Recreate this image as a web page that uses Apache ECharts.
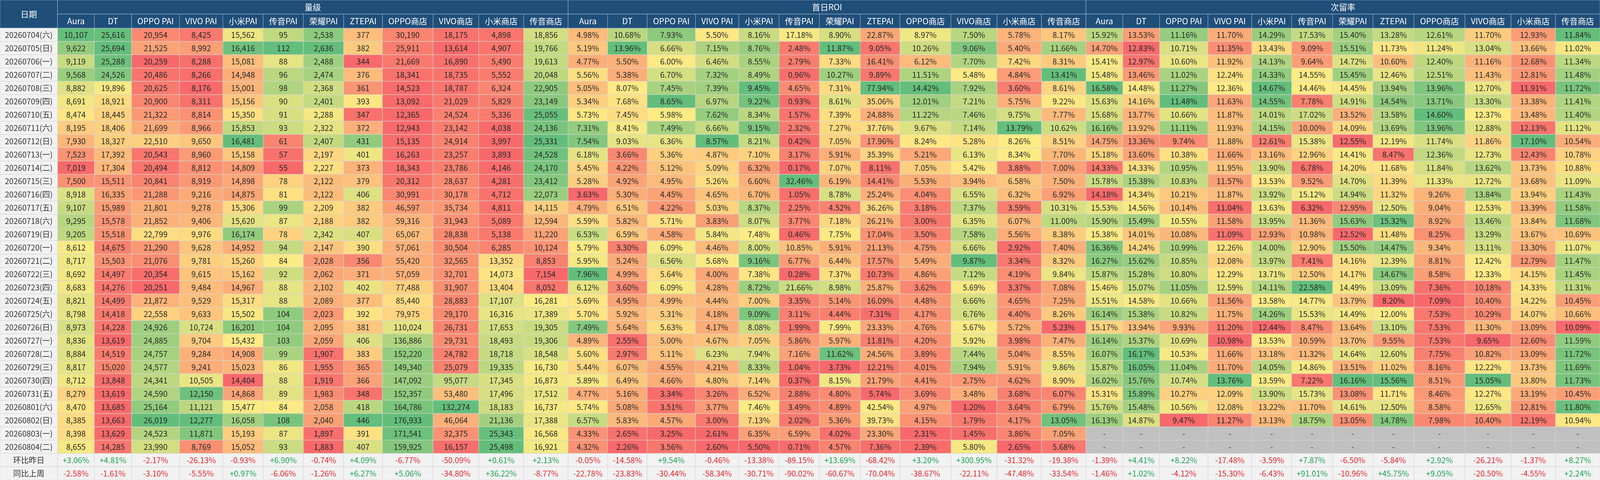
<!DOCTYPE html>
<html lang="zh">
<head>
  <meta charset="utf-8">
  <title>渠道日报</title>
  <script src="https://cdn.jsdelivr.net/npm/echarts@6/dist/echarts.min.js"></script>
  <style>
    html, body { margin: 0; padding: 0; background: #fff; overflow: hidden; }
  </style>
</head>
<body>
<!-- fill the whole window, the table is laid out in reference pixels on value axes -->
<div id="main" style="width: 100vw;height:100vh;"></div>
<script type="text/javascript">
    // ---- data ----
    var groups = ['量级', '首日ROI', '次留率'];
    var channels = ['Aura', 'DT', 'OPPO PAI', 'VIVO PAI', '小米PAI', '传音PAI', '荣耀PAI', 'ZTEPAI', 'OPPO商店', 'VIVO商店', '小米商店', '传音商店'];
    var dates = ['20260704(六)', '20260705(日)', '20260706(一)', '20260707(二)', '20260708(三)', '20260709(四)', '20260710(五)',
        '20260711(六)', '20260712(日)', '20260713(一)', '20260714(二)', '20260715(三)', '20260716(四)', '20260717(五)',
        '20260718(六)', '20260719(日)', '20260720(一)', '20260721(二)', '20260722(三)', '20260723(四)', '20260724(五)',
        '20260725(六)', '20260726(日)', '20260727(一)', '20260728(二)', '20260729(三)', '20260730(四)', '20260731(五)',
        '20260801(六)', '20260802(日)', '20260803(一)', '20260804(二)'];
    var summaryLabels = ['环比昨日', '同比上周'];

    // 量级 (installs)
    var volume = [
        [10107, 25616, 20954, 8425, 15562, 95, 2538, 377, 30190, 18175, 4898, 18856],
        [9622, 25694, 21525, 8992, 16416, 112, 2636, 382, 25911, 13614, 4907, 19766],
        [9119, 25288, 20259, 8288, 15081, 88, 2488, 344, 21669, 16890, 5490, 19613],
        [9568, 24526, 20486, 8266, 14948, 96, 2474, 376, 18341, 18735, 5552, 20048],
        [8882, 19896, 20625, 8176, 15001, 98, 2368, 361, 14523, 18787, 6324, 22905],
        [8691, 18921, 20900, 8311, 15156, 90, 2401, 393, 13092, 21029, 5829, 23149],
        [8474, 18445, 21322, 8814, 15350, 91, 2288, 347, 12365, 24524, 5336, 25055],
        [8195, 18406, 21699, 8966, 15853, 93, 2322, 372, 12943, 23142, 4038, 24136],
        [7930, 18327, 22510, 9650, 16481, 61, 2407, 431, 15135, 24914, 3997, 25331],
        [7523, 17392, 20543, 8960, 15158, 57, 2197, 401, 16263, 23257, 3893, 24528],
        [7019, 17304, 20494, 8812, 14809, 55, 2227, 373, 18343, 23786, 4146, 24170],
        [7500, 15511, 20841, 8919, 14898, 78, 2122, 379, 20312, 28637, 4281, 23412],
        [8918, 16335, 21288, 9216, 14875, 81, 2122, 406, 30991, 30178, 4712, 22073],
        [9107, 15989, 21801, 9278, 15306, 99, 2209, 382, 46597, 35734, 4811, 14115],
        [9295, 15578, 21852, 9406, 15620, 87, 2188, 382, 59316, 31943, 5089, 12594],
        [9205, 15518, 22799, 9976, 16174, 78, 2342, 407, 65067, 28838, 5138, 11220],
        [8612, 14675, 21290, 9628, 14952, 94, 2147, 390, 57061, 30504, 6285, 10124],
        [8717, 15503, 21076, 9781, 15260, 84, 2028, 356, 55420, 32565, 13352, 8853],
        [8692, 14497, 20354, 9615, 15162, 92, 2062, 371, 57059, 32701, 14073, 7154],
        [8683, 14276, 20251, 9484, 14967, 88, 2102, 402, 77488, 31907, 13404, 8052],
        [8821, 14499, 21872, 9529, 15317, 88, 2089, 377, 85440, 28883, 17107, 16281],
        [8798, 14418, 22558, 9633, 15502, 104, 2023, 392, 79975, 29170, 16316, 17389],
        [8973, 14228, 24926, 10724, 16201, 104, 2095, 381, 110024, 26731, 17653, 19305],
        [8836, 13619, 24885, 9704, 15432, 103, 2059, 406, 136886, 29731, 18493, 19306],
        [8884, 14519, 24757, 9284, 14908, 99, 1907, 383, 152220, 24782, 18718, 18548],
        [8817, 15020, 24577, 9241, 15023, 86, 1955, 365, 149340, 25079, 19335, 16730],
        [8712, 13848, 24341, 10505, 14404, 88, 1919, 366, 147092, 95077, 17345, 16873],
        [8279, 13619, 24590, 12150, 14868, 89, 1983, 348, 152357, 53480, 17496, 17512],
        [8470, 13685, 25164, 11121, 15477, 84, 2058, 418, 164786, 132274, 18183, 16737],
        [8385, 13663, 26019, 12277, 16058, 108, 2040, 446, 176933, 46064, 21136, 17388],
        [8398, 13629, 24523, 11871, 15193, 87, 1897, 391, 171541, 32375, 25343, 16568],
        [8655, 14285, 23990, 8769, 15052, 93, 1883, 407, 159925, 16157, 25498, 16921]
    ];
    var volumeDoD = [3.06, 4.81, -2.17, -26.13, -0.93, 6.90, -0.74, 4.09, -6.77, -50.09, 0.61, 2.13];
    var volumeWoW = [-2.58, -1.61, -3.10, -5.55, 0.97, -6.06, -1.26, 6.27, 5.06, -34.80, 36.22, -8.77];

    // 首日ROI (%)
    var roi = [
        [4.98, 10.68, 7.93, 5.50, 8.16, 17.18, 8.90, 22.87, 8.97, 7.50, 5.78, 8.17],
        [5.19, 13.96, 6.66, 7.15, 8.76, 2.48, 11.87, 9.05, 10.26, 9.06, 5.40, 11.66],
        [4.77, 5.50, 6.00, 6.46, 8.55, 2.79, 7.33, 16.41, 6.12, 7.70, 7.42, 8.31],
        [5.56, 5.38, 6.70, 7.32, 8.49, 0.96, 10.27, 9.89, 11.51, 5.48, 4.84, 13.41],
        [5.05, 8.07, 7.45, 7.39, 9.45, 4.65, 7.31, 77.94, 14.42, 7.92, 3.60, 8.61],
        [5.34, 7.68, 8.65, 6.97, 9.22, 0.93, 8.61, 35.06, 12.01, 7.21, 5.75, 9.22],
        [5.73, 7.45, 5.98, 7.62, 8.34, 1.57, 7.39, 24.88, 11.22, 7.46, 9.75, 7.77],
        [7.31, 8.41, 7.49, 6.66, 9.15, 2.32, 7.27, 37.76, 9.67, 7.14, 13.79, 10.62],
        [7.54, 9.03, 6.36, 8.57, 8.21, 0.42, 7.05, 17.96, 8.24, 5.28, 8.26, 8.51],
        [6.18, 3.66, 5.36, 4.87, 7.10, 3.17, 5.91, 35.39, 5.21, 6.13, 8.34, 7.70],
        [5.45, 4.22, 5.12, 5.09, 6.32, 0.17, 7.07, 8.11, 7.05, 5.42, 3.88, 7.00],
        [5.28, 4.92, 4.95, 5.26, 6.60, 32.46, 6.19, 14.41, 5.53, 3.94, 6.58, 7.50],
        [3.63, 5.30, 4.45, 4.65, 6.70, 1.05, 8.78, 25.24, 4.04, 6.55, 6.32, 6.92],
        [4.79, 6.51, 4.22, 5.03, 8.37, 2.25, 4.52, 36.26, 3.18, 7.37, 3.59, 10.31],
        [5.59, 5.82, 5.71, 3.83, 8.07, 3.77, 7.18, 26.21, 3.00, 6.35, 6.07, 11.00],
        [6.53, 6.59, 4.58, 5.84, 7.48, 0.46, 7.75, 17.04, 3.50, 7.58, 5.56, 8.38],
        [5.79, 3.30, 6.09, 4.46, 8.00, 10.85, 5.91, 21.13, 4.75, 6.66, 2.92, 7.40],
        [5.95, 5.24, 6.56, 5.68, 9.16, 6.77, 6.44, 17.57, 5.49, 9.87, 3.34, 8.32],
        [7.96, 4.99, 5.64, 4.00, 7.38, 0.28, 7.37, 10.73, 4.86, 7.12, 4.19, 9.84],
        [6.12, 3.60, 6.09, 4.28, 8.72, 21.66, 8.98, 25.87, 3.62, 5.69, 3.37, 7.08],
        [5.69, 4.95, 4.99, 4.44, 7.00, 3.35, 5.14, 16.09, 4.48, 6.66, 4.65, 7.25],
        [5.70, 5.92, 5.31, 4.18, 9.09, 3.11, 4.44, 7.31, 4.17, 6.76, 4.40, 8.26],
        [7.49, 5.64, 5.63, 4.17, 8.08, 1.99, 7.99, 23.33, 4.76, 5.67, 5.72, 5.23],
        [4.89, 2.55, 5.00, 4.67, 7.05, 5.86, 5.97, 11.81, 4.20, 5.92, 3.98, 7.47],
        [5.60, 2.97, 5.11, 6.23, 7.94, 7.16, 11.62, 24.56, 3.89, 7.44, 5.04, 8.55],
        [5.44, 6.07, 4.55, 4.21, 8.33, 1.04, 3.73, 12.21, 4.01, 7.94, 5.91, 9.86],
        [5.89, 6.49, 4.66, 4.80, 7.14, 0.37, 8.15, 21.79, 4.41, 2.75, 4.62, 8.90],
        [4.77, 5.16, 3.34, 3.26, 6.52, 2.88, 4.80, 5.74, 3.69, 3.48, 3.68, 6.07],
        [5.74, 5.08, 3.51, 3.77, 7.46, 3.49, 4.89, 42.54, 4.97, 1.20, 3.64, 6.79],
        [6.57, 5.83, 4.57, 3.00, 7.13, 2.02, 5.36, 39.73, 4.15, 1.79, 4.17, 13.05],
        [4.33, 2.65, 3.25, 2.61, 6.35, 6.59, 4.02, 23.30, 2.31, 1.45, 3.86, 7.05],
        [4.32, 2.26, 3.56, 2.60, 5.50, 0.71, 4.57, 7.36, 2.39, 5.80, 2.65, 5.68]
    ];
    var roiDoD = [-0.05, -14.58, 9.54, -0.46, -13.38, -89.15, 13.69, -68.42, 3.20, 300.95, -31.32, -19.38];
    var roiWoW = [-22.78, -23.83, -30.44, -58.34, -30.71, -90.02, -60.67, -70.04, -38.67, -22.11, -47.48, -33.54];

    // 次留率 (%), the last two days have no value yet
    var retention = [
        [15.92, 13.53, 11.16, 11.70, 14.29, 17.53, 15.40, 13.28, 12.61, 11.70, 12.93, 11.84],
        [14.70, 12.83, 10.71, 11.35, 13.43, 9.09, 15.51, 11.73, 11.24, 13.04, 13.66, 11.02],
        [15.41, 12.97, 10.60, 11.92, 14.13, 9.64, 14.72, 10.60, 12.40, 11.16, 12.68, 11.34],
        [15.48, 13.46, 11.02, 12.24, 14.33, 14.55, 15.45, 12.46, 12.51, 11.43, 12.81, 11.48],
        [16.58, 14.48, 11.27, 12.36, 14.67, 14.46, 14.45, 13.94, 13.96, 12.70, 11.91, 11.72],
        [15.63, 14.16, 11.48, 11.63, 14.55, 7.78, 14.91, 14.54, 13.71, 13.30, 13.38, 11.41],
        [15.68, 13.77, 10.66, 11.87, 14.01, 17.02, 13.52, 13.58, 14.60, 12.37, 13.48, 11.40],
        [16.16, 13.92, 11.11, 11.93, 14.15, 10.00, 14.09, 13.69, 13.96, 12.88, 12.13, 11.12],
        [14.75, 13.36, 9.74, 11.88, 12.61, 15.38, 12.55, 12.19, 11.74, 11.86, 17.10, 10.54],
        [15.18, 13.60, 10.38, 11.66, 13.16, 12.96, 14.41, 8.47, 12.36, 12.73, 12.43, 10.78],
        [14.33, 14.33, 10.95, 11.95, 13.90, 6.78, 14.20, 11.68, 11.84, 13.62, 13.73, 10.88],
        [15.78, 15.38, 10.83, 11.57, 13.53, 9.52, 14.70, 11.39, 11.33, 12.72, 13.68, 11.09],
        [14.18, 14.34, 10.21, 11.87, 13.92, 15.12, 14.94, 11.32, 9.26, 13.84, 13.94, 11.43],
        [15.53, 14.56, 10.14, 11.04, 13.63, 6.32, 12.95, 12.50, 9.04, 12.53, 13.39, 11.58],
        [15.90, 15.49, 10.55, 11.58, 13.95, 11.36, 15.63, 15.32, 8.92, 13.46, 13.84, 11.68],
        [15.38, 14.01, 10.08, 11.09, 12.93, 10.98, 12.52, 11.48, 8.25, 13.29, 13.67, 10.69],
        [16.36, 14.24, 10.99, 12.26, 14.00, 12.90, 15.50, 14.47, 9.34, 13.11, 13.30, 11.07],
        [16.27, 15.62, 10.85, 12.08, 13.97, 7.41, 14.16, 12.39, 8.81, 12.42, 12.79, 11.47],
        [15.87, 15.28, 10.80, 12.29, 13.71, 12.50, 14.17, 14.67, 8.58, 12.33, 14.15, 11.45],
        [15.46, 15.07, 11.05, 12.59, 14.11, 22.58, 14.49, 13.09, 7.36, 10.18, 14.33, 11.31],
        [15.51, 14.58, 10.66, 11.56, 13.58, 14.77, 13.79, 8.20, 7.09, 10.40, 14.22, 10.45],
        [16.14, 15.38, 10.82, 11.75, 14.26, 15.53, 14.49, 12.00, 7.53, 10.29, 14.07, 10.66],
        [15.17, 13.94, 9.93, 11.20, 12.44, 8.47, 13.64, 13.10, 7.53, 11.30, 13.09, 10.09],
        [16.14, 15.37, 10.69, 10.98, 13.53, 10.59, 13.70, 9.55, 7.53, 9.65, 12.60, 11.59],
        [16.07, 16.17, 10.53, 11.66, 13.18, 11.32, 14.64, 12.60, 7.75, 10.82, 13.09, 11.72],
        [15.87, 16.05, 11.04, 11.70, 14.05, 14.86, 13.51, 11.02, 8.16, 12.22, 13.73, 11.69],
        [16.02, 15.76, 10.74, 13.76, 13.59, 7.22, 16.16, 15.56, 8.51, 15.05, 13.80, 11.73],
        [15.31, 15.89, 10.27, 12.09, 13.90, 15.73, 13.08, 11.71, 8.46, 12.27, 13.19, 10.45],
        [15.76, 15.48, 10.56, 12.08, 13.22, 11.70, 14.61, 12.50, 8.58, 12.65, 12.81, 11.80],
        [16.13, 14.87, 9.47, 11.27, 13.13, 18.75, 13.05, 14.78, 7.98, 10.40, 12.19, 10.94],
        null,
        null
    ];
    var retentionDoD = [-1.39, 4.41, 8.22, -17.48, -3.59, 7.87, -6.50, -5.84, 2.92, -26.21, -1.37, 8.27];
    var retentionWoW = [-1.46, 1.02, -4.12, -15.30, -6.43, 91.01, -10.96, 45.75, 9.05, -20.50, -4.55, 2.24];

    // ---- layout (reference pixels) ----
    var colEdges = [0, 150,
        246, 343, 468, 581, 686, 791, 896, 997, 1129, 1248, 1365, 1481,
        1584, 1687, 1813, 1926, 2031, 2136, 2243, 2346, 2479, 2599, 2715, 2831,
        2927, 3023, 3149, 3263, 3367, 3474, 3579, 3686, 3819, 3939, 4055, 4171];
    var headH = 36, rowH = 34;
    var totalW = 4171, totalH = 1228;
    var FONT = '20px "Noto Sans CJK SC", "Noto Sans", sans-serif';
    var HEAD_FONT = '21px "Noto Sans CJK SC", "Noto Sans", sans-serif';

    function rowTop(i) { return 2 * headH + i * rowH; }
    function fmtVol(v) { return v.toLocaleString('en-US'); }
    function fmtPct(v) { return v.toFixed(2) + '%'; }
    function fmtChg(v) { return (v > 0 ? '+' : '') + v.toFixed(2) + '%'; }

    var sections = [
        {rows: volume, fmt: fmtVol, dod: volumeDoD, wow: volumeWoW},
        {rows: roi, fmt: fmtPct, dod: roiDoD, wow: roiWoW},
        {rows: retention, fmt: fmtPct, dod: retentionDoD, wow: retentionWoW}
    ];

    // heat cells: [x0, y0, x1, y1, value scaled 0..1 within its own column]
    var heatData = [], heatText = [];
    // plain cells: headers, dates, summary rows, empty cells
    var plainData = [], plainStyle = [];

    function addPlain(x0, y0, x1, y1, text, fill, color, stroke, font) {
        plainData.push([x0, y0, x1, y1]);
        plainStyle.push({text: text, fill: fill, color: color, stroke: stroke, font: font || FONT});
    }

    var HEAD_BG = '#1f4e79', HEAD_LINE = '#a3b8cf', GRID_LINE = '#d4d4d4';
    addPlain(0, 0, colEdges[1], 2 * headH, '日期', HEAD_BG, '#fff', HEAD_LINE, HEAD_FONT);
    groups.forEach(function (g, s) {
        var c0 = 1 + s * channels.length;
        addPlain(colEdges[c0], 0, colEdges[c0 + channels.length], headH, g, HEAD_BG, '#fff', HEAD_LINE, HEAD_FONT);
        channels.forEach(function (ch, c) {
            addPlain(colEdges[c0 + c], headH, colEdges[c0 + c + 1], 2 * headH, ch, HEAD_BG, '#fff', HEAD_LINE, HEAD_FONT);
        });
    });

    dates.forEach(function (d, r) {
        addPlain(0, rowTop(r), colEdges[1], rowTop(r + 1), d, '#f2f2f2', '#333', GRID_LINE);
    });
    summaryLabels.forEach(function (l, k) {
        addPlain(0, rowTop(dates.length + k), colEdges[1], rowTop(dates.length + k + 1), l, '#f2f2f2', '#333', GRID_LINE);
    });

    sections.forEach(function (sec, s) {
        channels.forEach(function (ch, c) {
            var col = 1 + s * channels.length + c;
            var x0 = colEdges[col], x1 = colEdges[col + 1];
            var vals = sec.rows.filter(function (r) { return r; }).map(function (r) { return r[c]; });
            var min = Math.min.apply(null, vals), max = Math.max.apply(null, vals);
            sec.rows.forEach(function (r, i) {
                if (!r) {
                    addPlain(x0, rowTop(i), x1, rowTop(i + 1), '-', '#c0c0c0', '#333', GRID_LINE);
                    return;
                }
                heatData.push([x0, rowTop(i), x1, rowTop(i + 1), (r[c] - min) / (max - min)]);
                heatText.push(sec.fmt(r[c]));
            });
            [sec.dod[c], sec.wow[c]].forEach(function (v, k) {
                addPlain(x0, rowTop(dates.length + k), x1, rowTop(dates.length + k + 1), fmtChg(v),
                    '#f2f2f2', v >= 0 ? '#1aa350' : '#e3242b', GRID_LINE);
            });
        });
    });

    function cellRect(api) {
        var p0 = api.coord([api.value(0), api.value(1)]);
        var p1 = api.coord([api.value(2), api.value(3)]);
        return {x: p0[0], y: p0[1], width: p1[0] - p0[0], height: p1[1] - p0[1]};
    }

    var myChart = echarts.init(document.getElementById('main'));

    option = {
        animation: false,
        grid: {left: 0, right: 0, top: 0, bottom: 0},
        xAxis: {type: 'value', min: 0, max: totalW, show: false},
        yAxis: {type: 'value', min: 0, max: totalH, inverse: true, show: false},
        visualMap: {
            show: false,
            seriesIndex: 0,
            dimension: 4,
            min: 0,
            max: 1,
            inRange: {color: ['#f8696b', '#ffeb84', '#63be7b']}
        },
        series: [{
            type: 'custom',
            clip: false,
            progressive: 0,
            encode: {x: [0, 2], y: [1, 3]},
            data: heatData,
            renderItem: function (params, api) {
                return {
                    type: 'rect',
                    shape: cellRect(api),
                    style: {fill: api.visual('color'), stroke: GRID_LINE, lineWidth: 1},
                    textContent: {style: {text: heatText[params.dataIndex], fill: '#262626', font: FONT}},
                    textConfig: {position: 'inside'}
                };
            }
        }, {
            type: 'custom',
            clip: false,
            progressive: 0,
            encode: {x: [0, 2], y: [1, 3]},
            data: plainData,
            renderItem: function (params, api) {
                var st = plainStyle[params.dataIndex];
                return {
                    type: 'rect',
                    shape: cellRect(api),
                    style: {fill: st.fill, stroke: st.stroke, lineWidth: 1},
                    textContent: {style: {text: st.text, fill: st.color, font: st.font}},
                    textConfig: {position: 'inside'}
                };
            }
        }]
    };

    myChart.setOption(option);
</script>
</body>
</html>
